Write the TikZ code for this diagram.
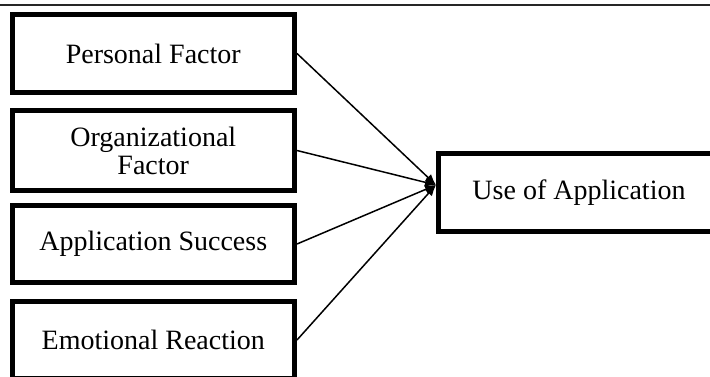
\documentclass[tikz,border=0pt]{standalone}
\usepackage{fontspec}
\setmainfont{Liberation Serif}
\usetikzlibrary{arrows.meta}
\tikzset{
  factor/.style={draw, line width=5pt, rectangle, minimum width=282.5pt, inner sep=0pt,
    align=center, font=\fontsize{28}{28}\selectfont},
  link/.style={line width=1.5pt, -{Latex[length=11pt,width=9pt]}},
  rule/.style={line width=1.5pt, black!85},
}
\begin{document}
\begin{tikzpicture}[x=1pt,y=-1pt]
\useasboundingbox (0,0) rectangle (710,377);
\clip (0,0) rectangle (710,377);
\fill[white] (0,0) rectangle (710,377);
\draw[rule] (0,5) -- (710,5);
\node[factor, minimum height=78pt] (pf) at (153.25,53.5) {Personal Factor};
\node[factor, minimum height=80pt] (of) at (153.25,150.5) {Organizational\\Factor};
\node[factor, minimum height=77pt] (as) at (153.25,244) {Application Success};
\node[factor, minimum height=77pt] (er) at (153.25,340) {Emotional Reaction};
\node[factor, minimum width=281pt, minimum height=78.3pt] (ua) at (579,192.3) {Use of Application};
\coordinate (tip) at (436,185);
\draw[link] (pf.east) -- (tip);
\draw[link] (of.east) -- (tip);
\draw[link] (as.east) -- (tip);
\draw[link] (er.east) -- (tip);
\end{tikzpicture}
\end{document}
